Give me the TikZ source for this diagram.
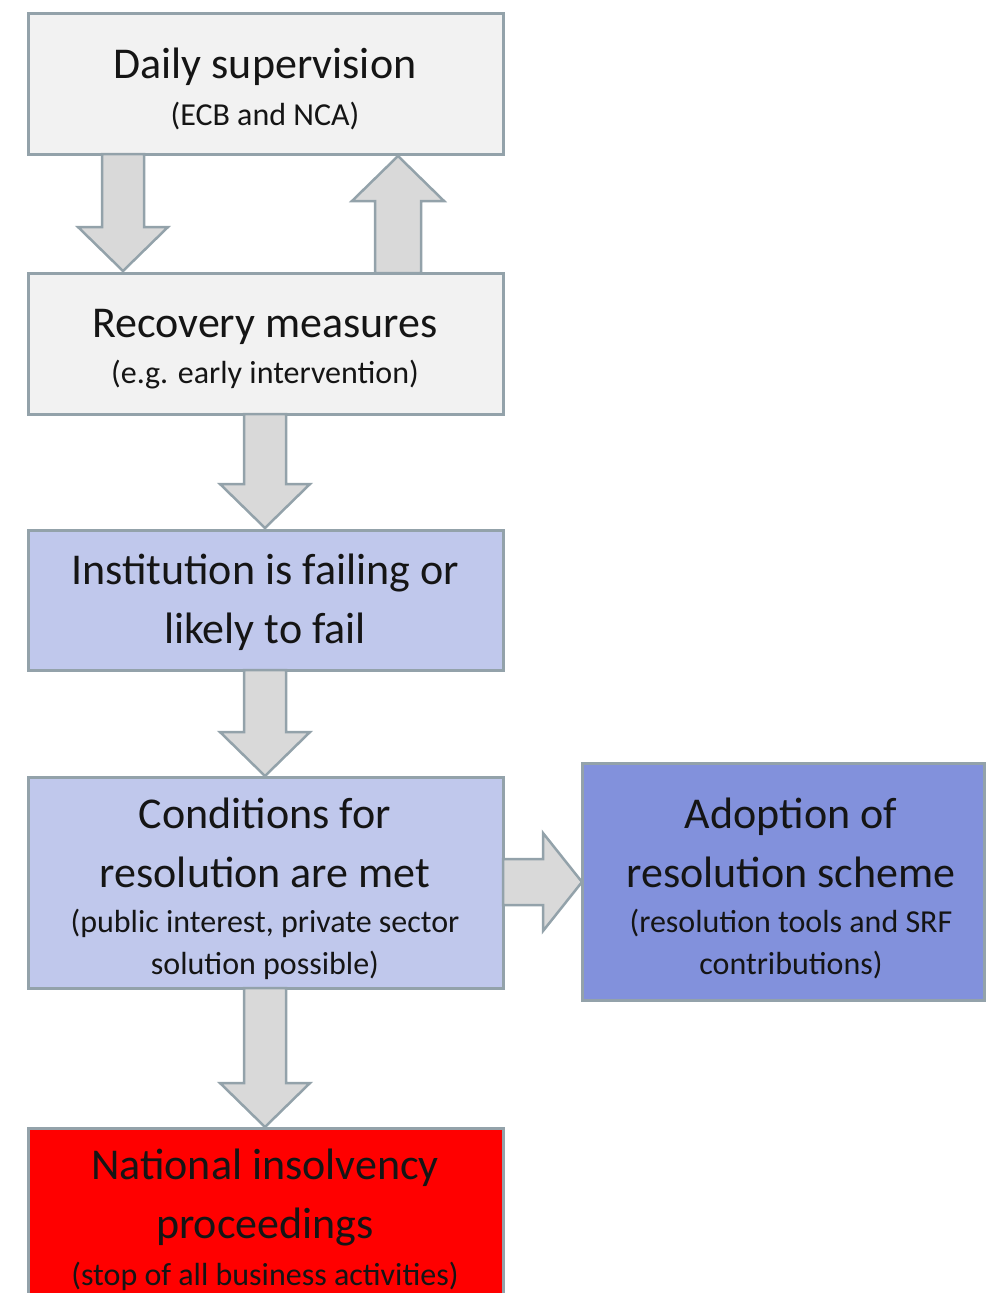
\documentclass[tikz,border=0pt]{standalone}
\usepackage{fontspec}
\setmainfont{Carlito}
\usetikzlibrary{calc}

\definecolor{edgegray}{HTML}{93A2AA}
\definecolor{lightbox}{HTML}{F2F2F2}
\definecolor{paleblue}{HTML}{C0C8EC}
\definecolor{midblue}{HTML}{8291DC}
\definecolor{alarmred}{HTML}{FF0000}
\definecolor{arrowfill}{HTML}{D9D9D9}
\definecolor{inkblack}{HTML}{151515}

\tikzset{
  panel/.style={draw=edgegray, line width=3pt, rectangle, inner sep=0pt},
  greypanel/.style={panel, fill=lightbox},
  bluepanel/.style={panel, fill=paleblue},
  darkpanel/.style={panel, fill=midblue},
  redpanel/.style={panel, fill=alarmred},
  blockarrow/.style={draw=edgegray, fill=arrowfill, line width=2.5pt, line join=miter},
  bigline/.style={anchor=base, inner sep=0pt, text=inkblack, font=\fontsize{44}{50}\selectfont},
  smallline/.style={anchor=base, inner sep=0pt, text=inkblack, font=\fontsize{32}{38}\selectfont},
}

% fat arrow pointing down: shaft half width 21pt, head half width 45pt, head length 44pt
\newcommand\fatdown[2]{%
  \draw[blockarrow] let \p1=(#1), \p2=(#2) in
    (\x1-21pt,\y1) -- (\x1-21pt,\y2+44pt) -- (\x1-45pt,\y2+44pt) -- (\x1,\y2)
    -- (\x1+45pt,\y2+44pt) -- (\x1+21pt,\y2+44pt) -- (\x1+21pt,\y1) -- cycle;}
% fat arrow pointing up
\newcommand\fatup[2]{%
  \draw[blockarrow] let \p1=(#1), \p2=(#2) in
    (\x1-23pt,\y1) -- (\x1-23pt,\y2-45pt) -- (\x1-46pt,\y2-45pt) -- (\x1,\y2)
    -- (\x1+46pt,\y2-45pt) -- (\x1+23pt,\y2-45pt) -- (\x1+23pt,\y1) -- cycle;}
% fat arrow pointing right
\newcommand\fatright[2]{%
  \draw[blockarrow] let \p1=(#1), \p2=(#2) in
    (\x1,\y1+23pt) -- (\x2-39pt,\y1+23pt) -- (\x2-39pt,\y1+49pt) -- (\x2,\y1)
    -- (\x2-39pt,\y1-49pt) -- (\x2-39pt,\y1-23pt) -- (\x1,\y1-23pt) -- cycle;}

\begin{document}
\begin{tikzpicture}[x=1pt, y=-1pt]
\useasboundingbox (0,0) rectangle (986,1293);
\clip (0,0) rectangle (986,1293);

% boxes
\node[greypanel, minimum width=475pt, minimum height=141pt] (ds) at (265.5,83.5) {};
\node[greypanel, minimum width=475pt, minimum height=141pt] (rm) at (265.5,343.5) {};
\node[bluepanel, minimum width=475pt, minimum height=140pt] (ff) at (265.5,600) {};
\node[bluepanel, minimum width=475pt, minimum height=211pt] (cr) at (265.5,882.5) {};
\node[darkpanel, minimum width=402pt, minimum height=237pt] (ar) at (783,881.5) {};
\node[redpanel, minimum width=475pt, minimum height=200pt] (ni) at (265.5,1228) {};

% arrow anchors
\coordinate (dsL) at (123,154);   \coordinate (rmL) at (123,271);
\coordinate (rmR) at (398,273);   \coordinate (dsR) at (398,156);
\coordinate (rmB) at (265,414);   \coordinate (ffT) at (265,528);
\coordinate (ffB) at (265,670);   \coordinate (crT) at (265,776);
\coordinate (crR) at (503,882);   \coordinate (arL) at (582,882);
\coordinate (crB) at (265,988);   \coordinate (niT) at (265,1127);

\fatdown{dsL}{rmL}
\fatup{rmR}{dsR}
\fatdown{rmB}{ffT}
\fatdown{ffB}{crT}
\fatright{crR}{arL}
\fatdown{crB}{niT}

% texts
\node[bigline]   (t1a) at (265,78)  {Daily supervision};
\node[smallline] (t1b) at (265,125) {(ECB and NCA)};

\node[bigline]   (t2a) at (265,337) {Recovery measures};
\node[smallline] (t2b) at (265,383) {(e.g. early intervention)};

\node[bigline]   (t3a) at (265,584) {Institution is failing or};
\node[bigline]   (t3b) at (265,643) {likely to fail};

\node[bigline]   (t4a) at (265,828) {Conditions for};
\node[bigline]   (t4b) at (265,887) {resolution are met};
\node[smallline] (t4c) at (265,932) {(public interest, private sector};
\node[smallline] (t4d) at (265,974) {solution possible)};

\node[bigline]   (t5a) at (791,828) {Adoption of};
\node[bigline]   (t5b) at (791,887) {resolution scheme};
\node[smallline] (t5c) at (791,932) {(resolution tools and SRF};
\node[smallline] (t5d) at (791,974) {contributions)};

\node[bigline]   (t6a) at (265,1179) {National insolvency};
\node[bigline]   (t6b) at (265,1238) {proceedings};
\node[smallline] (t6c) at (265,1285) {(stop of all business activities)};
\end{tikzpicture}
\end{document}
